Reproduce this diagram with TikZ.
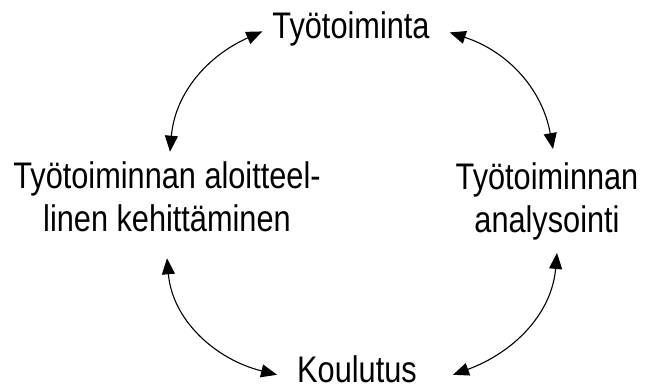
\documentclass[tikz,border=0pt]{standalone}
\usepackage{fontspec}
\setmainfont[FakeStretch=0.83]{Liberation Sans}
\usetikzlibrary{arrows.meta,calc}
\tikzset{
  lbl/.style={inner sep=0pt, font=\fontsize{37}{43}\selectfont, align=center},
  link/.style={line width=1.1pt, {Triangle[length=16pt,width=13pt]}-{Triangle[length=16pt,width=13pt]}}
}
\begin{document}
\begin{tikzpicture}[x=1pt,y=1pt]
\useasboundingbox (0,0) rectangle (648,390);
\node[lbl, anchor=base] (top) at (351,351) {Työtoiminta};
\node[lbl] (left) at (167,193) {Työtoiminnan aloitteel-\\linen kehittäminen};
\node[lbl] (right) at (547,189) {Työtoiminnan\\analysointi};
\node[lbl, anchor=base] (bot) at (357,7) {Koulutus};
\coordinate (a1) at ($(top.west)+(-10,-2)$);
\coordinate (b1) at ($(left.north)+(3,10)$);
\coordinate (a2) at ($(top.east)+(20,-3)$);
\coordinate (b2) at ($(right.north)+(6,13)$);
\coordinate (a3) at ($(left.south)+(0,-26)$);
\coordinate (b3) at ($(bot.west)+(-20,-5)$);
\coordinate (a4) at ($(right.south)+(10,-13)$);
\coordinate (b4) at ($(bot.east)+(36,-5)$);
\draw[link] (a1) to[out=204,in=85] (b1);
\draw[link] (a2) to[out=-18,in=100] (b2);
\draw[link] (a3) to[out=-85,in=166] (b3);
\draw[link] (a4) to[out=-95,in=20] (b4);
\end{tikzpicture}
\end{document}
